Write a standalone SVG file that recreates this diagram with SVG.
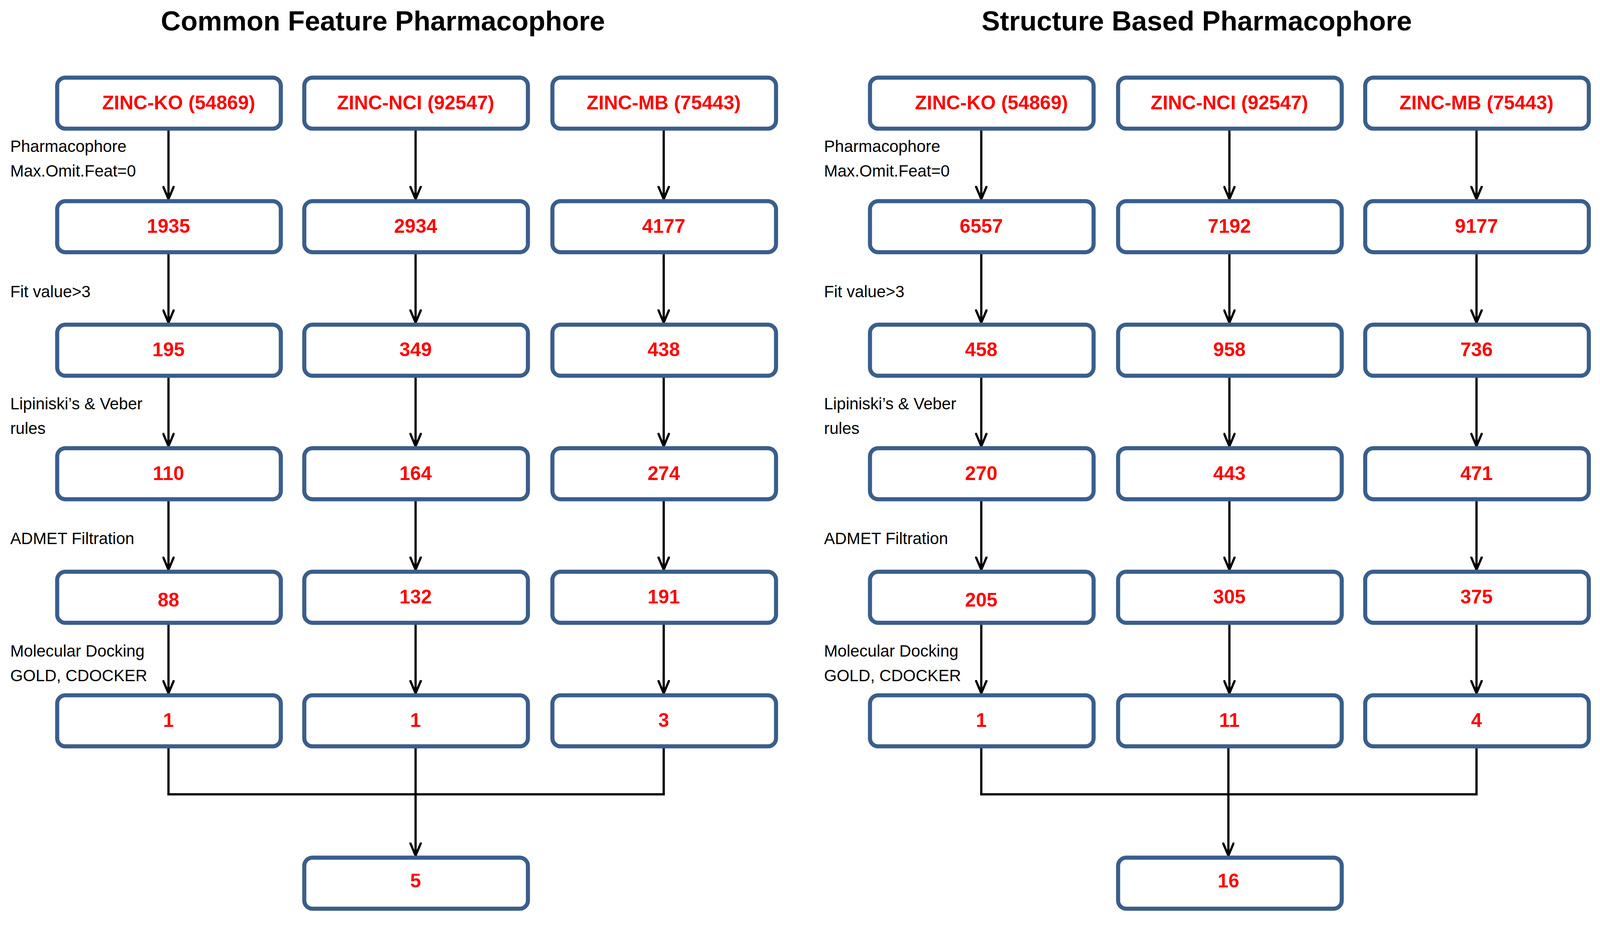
<svg xmlns="http://www.w3.org/2000/svg" width="4132" height="2381" viewBox="0 0 4132 2381">
<defs>
<marker id="ah" viewBox="0 0 14 12" refX="13" refY="6" markerWidth="14" markerHeight="12" markerUnits="userSpaceOnUse" orient="auto">
<path d="M0,0.5 L13,6 L0,11.5" fill="none" stroke="#000" stroke-width="2.2"/>
</marker>
<style>
.b{fill:#fff;stroke:#3A5E8C;stroke-width:4}
.t{font-family:"Liberation Sans",Arial,sans-serif;font-weight:bold;font-size:19px;fill:#FF0000;text-anchor:middle}
.l{font-family:"Liberation Sans",Arial,sans-serif;font-size:16px;fill:#000}
.h{font-family:"Liberation Sans",Arial,sans-serif;font-weight:bold;font-size:27px;fill:#000;text-anchor:middle}
.c{fill:none;stroke:#000;stroke-width:2.2}
.a{fill:none;stroke:#000;stroke-width:2.2;marker-end:url(#ah)}
</style>
</defs>
<rect width="4132" height="2381" fill="#fff"/>
<g transform="scale(2.614)">
<text class="h" x="375" y="30">Common Feature Pharmacophore</text>
<text class="h" x="1172" y="30">Structure Based Pharmacophore</text>
<g id="labels">
<text class="l" x="10" y="149">Pharmacophore</text><text class="l" x="10" y="173">Max.Omit.Feat=0</text>
<text class="l" x="10" y="291">Fit value&gt;3</text>
<text class="l" x="10" y="401">Lipiniski’s &amp; Veber</text><text class="l" x="10" y="425">rules</text>
<text class="l" x="10" y="533">ADMET Filtration</text>
<text class="l" x="10" y="643">Molecular Docking</text><text class="l" x="10" y="667">GOLD, CDOCKER</text>
<text class="l" x="807" y="149">Pharmacophore</text><text class="l" x="807" y="173">Max.Omit.Feat=0</text>
<text class="l" x="807" y="291">Fit value&gt;3</text>
<text class="l" x="807" y="401">Lipiniski’s &amp; Veber</text><text class="l" x="807" y="425">rules</text>
<text class="l" x="807" y="533">ADMET Filtration</text>
<text class="l" x="807" y="643">Molecular Docking</text><text class="l" x="807" y="667">GOLD, CDOCKER</text>
</g>
<g id="connectors">
<line class="a" x1="165" y1="126" x2="165" y2="195"/><line class="a" x1="407" y1="126" x2="407" y2="195"/><line class="a" x1="650" y1="126" x2="650" y2="195"/><line class="a" x1="961" y1="126" x2="961" y2="195"/><line class="a" x1="1204" y1="126" x2="1204" y2="195"/><line class="a" x1="1446" y1="126" x2="1446" y2="195"/>
<line class="a" x1="165" y1="247" x2="165" y2="316"/><line class="a" x1="407" y1="247" x2="407" y2="316"/><line class="a" x1="650" y1="247" x2="650" y2="316"/><line class="a" x1="961" y1="247" x2="961" y2="316"/><line class="a" x1="1204" y1="247" x2="1204" y2="316"/><line class="a" x1="1446" y1="247" x2="1446" y2="316"/>
<line class="a" x1="165" y1="368" x2="165" y2="437"/><line class="a" x1="407" y1="368" x2="407" y2="437"/><line class="a" x1="650" y1="368" x2="650" y2="437"/><line class="a" x1="961" y1="368" x2="961" y2="437"/><line class="a" x1="1204" y1="368" x2="1204" y2="437"/><line class="a" x1="1446" y1="368" x2="1446" y2="437"/>
<line class="a" x1="165" y1="489" x2="165" y2="558"/><line class="a" x1="407" y1="489" x2="407" y2="558"/><line class="a" x1="650" y1="489" x2="650" y2="558"/><line class="a" x1="961" y1="489" x2="961" y2="558"/><line class="a" x1="1204" y1="489" x2="1204" y2="558"/><line class="a" x1="1446" y1="489" x2="1446" y2="558"/>
<line class="a" x1="165" y1="610" x2="165" y2="679"/><line class="a" x1="407" y1="610" x2="407" y2="679"/><line class="a" x1="650" y1="610" x2="650" y2="679"/><line class="a" x1="961" y1="610" x2="961" y2="679"/><line class="a" x1="1204" y1="610" x2="1204" y2="679"/><line class="a" x1="1446" y1="610" x2="1446" y2="679"/>
<path class="c" d="M165,731V778H650V731 M961,731V778H1446V731"/>
<line class="a" x1="407" y1="731" x2="407" y2="838"/>
<line class="a" x1="1203" y1="731" x2="1203" y2="838"/>
</g>
<g id="nodes">
<g id="n1"><rect class="b" x="56" y="76" width="219" height="50" rx="8"/><text class="t" x="175" y="107">ZINC-KO (54869)</text></g>
<g id="n2"><rect class="b" x="298" y="76" width="219" height="50" rx="8"/><text class="t" x="407" y="107">ZINC-NCI (92547)</text></g>
<g id="n3"><rect class="b" x="541" y="76" width="219" height="50" rx="8"/><text class="t" x="650" y="107">ZINC-MB (75443)</text></g>
<g id="n4"><rect class="b" x="852" y="76" width="219" height="50" rx="8"/><text class="t" x="971" y="107">ZINC-KO (54869)</text></g>
<g id="n5"><rect class="b" x="1095" y="76" width="219" height="50" rx="8"/><text class="t" x="1204" y="107">ZINC-NCI (92547)</text></g>
<g id="n6"><rect class="b" x="1337" y="76" width="219" height="50" rx="8"/><text class="t" x="1446" y="107">ZINC-MB (75443)</text></g>

<g id="n7"><rect class="b" x="56" y="197" width="219" height="50" rx="8"/><text class="t" x="165" y="228">1935</text></g>
<g id="n8"><rect class="b" x="298" y="197" width="219" height="50" rx="8"/><text class="t" x="407" y="228">2934</text></g>
<g id="n9"><rect class="b" x="541" y="197" width="219" height="50" rx="8"/><text class="t" x="650" y="228">4177</text></g>
<g id="n10"><rect class="b" x="852" y="197" width="219" height="50" rx="8"/><text class="t" x="961" y="228">6557</text></g>
<g id="n11"><rect class="b" x="1095" y="197" width="219" height="50" rx="8"/><text class="t" x="1204" y="228">7192</text></g>
<g id="n12"><rect class="b" x="1337" y="197" width="219" height="50" rx="8"/><text class="t" x="1446" y="228">9177</text></g>

<g id="n13"><rect class="b" x="56" y="318" width="219" height="50" rx="8"/><text class="t" x="165" y="349">195</text></g>
<g id="n14"><rect class="b" x="298" y="318" width="219" height="50" rx="8"/><text class="t" x="407" y="349">349</text></g>
<g id="n15"><rect class="b" x="541" y="318" width="219" height="50" rx="8"/><text class="t" x="650" y="349">438</text></g>
<g id="n16"><rect class="b" x="852" y="318" width="219" height="50" rx="8"/><text class="t" x="961" y="349">458</text></g>
<g id="n17"><rect class="b" x="1095" y="318" width="219" height="50" rx="8"/><text class="t" x="1204" y="349">958</text></g>
<g id="n18"><rect class="b" x="1337" y="318" width="219" height="50" rx="8"/><text class="t" x="1446" y="349">736</text></g>

<g id="n19"><rect class="b" x="56" y="439" width="219" height="50" rx="8"/><text class="t" x="165" y="470">110</text></g>
<g id="n20"><rect class="b" x="298" y="439" width="219" height="50" rx="8"/><text class="t" x="407" y="470">164</text></g>
<g id="n21"><rect class="b" x="541" y="439" width="219" height="50" rx="8"/><text class="t" x="650" y="470">274</text></g>
<g id="n22"><rect class="b" x="852" y="439" width="219" height="50" rx="8"/><text class="t" x="961" y="470">270</text></g>
<g id="n23"><rect class="b" x="1095" y="439" width="219" height="50" rx="8"/><text class="t" x="1204" y="470">443</text></g>
<g id="n24"><rect class="b" x="1337" y="439" width="219" height="50" rx="8"/><text class="t" x="1446" y="470">471</text></g>

<g id="n25"><rect class="b" x="56" y="560" width="219" height="50" rx="8"/><text class="t" x="165" y="594">88</text></g>
<g id="n26"><rect class="b" x="298" y="560" width="219" height="50" rx="8"/><text class="t" x="407" y="591">132</text></g>
<g id="n27"><rect class="b" x="541" y="560" width="219" height="50" rx="8"/><text class="t" x="650" y="591">191</text></g>
<g id="n28"><rect class="b" x="852" y="560" width="219" height="50" rx="8"/><text class="t" x="961" y="594">205</text></g>
<g id="n29"><rect class="b" x="1095" y="560" width="219" height="50" rx="8"/><text class="t" x="1204" y="591">305</text></g>
<g id="n30"><rect class="b" x="1337" y="560" width="219" height="50" rx="8"/><text class="t" x="1446" y="591">375</text></g>

<g id="n31"><rect class="b" x="56" y="681" width="219" height="50" rx="8"/><text class="t" x="165" y="712">1</text></g>
<g id="n32"><rect class="b" x="298" y="681" width="219" height="50" rx="8"/><text class="t" x="407" y="712">1</text></g>
<g id="n33"><rect class="b" x="541" y="681" width="219" height="50" rx="8"/><text class="t" x="650" y="712">3</text></g>
<g id="n34"><rect class="b" x="852" y="681" width="219" height="50" rx="8"/><text class="t" x="961" y="712">1</text></g>
<g id="n35"><rect class="b" x="1095" y="681" width="219" height="50" rx="8"/><text class="t" x="1204" y="712">11</text></g>
<g id="n36"><rect class="b" x="1337" y="681" width="219" height="50" rx="8"/><text class="t" x="1446" y="712">4</text></g>

<g id="n37"><rect class="b" x="298" y="840" width="219" height="50" rx="8"/><text class="t" x="407" y="869">5</text></g>
<g id="n38"><rect class="b" x="1095" y="840" width="219" height="50" rx="8"/><text class="t" x="1203" y="869">16</text></g>
</g>
</g>
</svg>
